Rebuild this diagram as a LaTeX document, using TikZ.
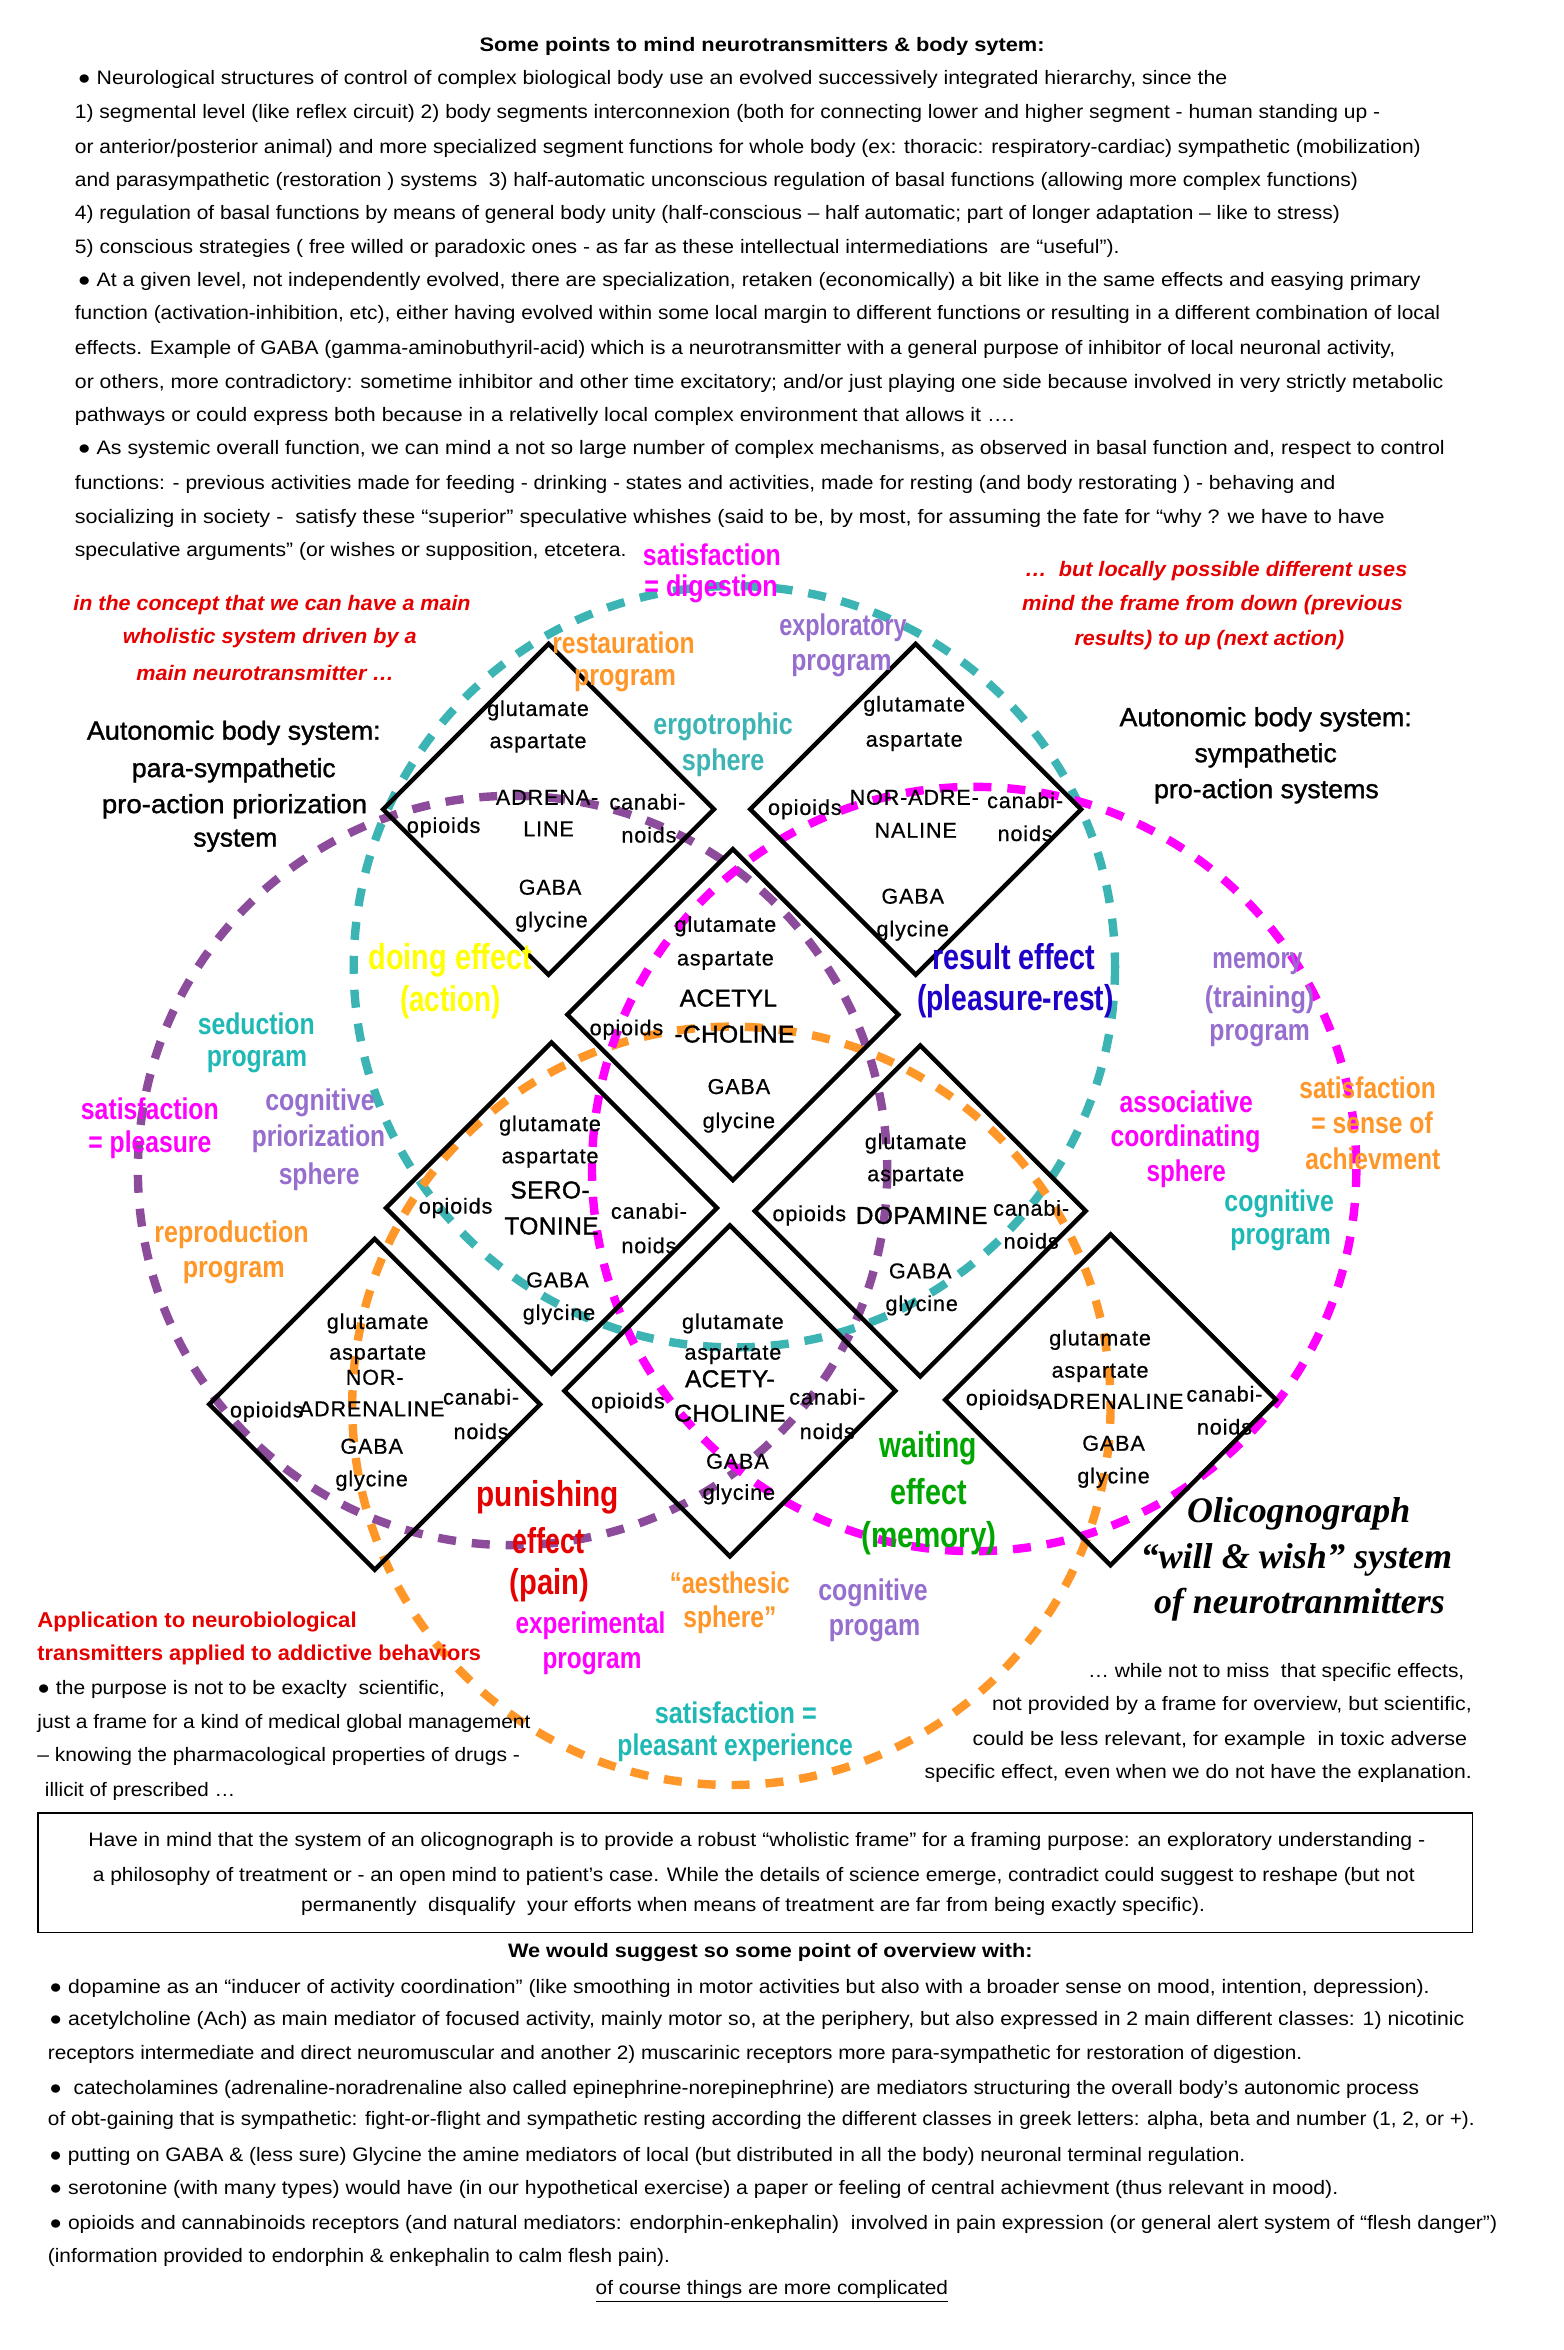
\documentclass[tikz,border=0pt]{standalone}
\usepackage{fontspec}
\setmainfont{Liberation Sans}
\newfontfamily\serifbi{Liberation Serif}
\newfontfamily\dfont[FakeBold=0.6,LetterSpace=4]{Liberation Sans}
\newfontfamily\dfontb[FakeBold=1.4,LetterSpace=2]{Liberation Sans}
\newfontfamily\semib[FakeBold=1.2]{Liberation Sans}
\usetikzlibrary{shapes.geometric}
\definecolor{tealc}{RGB}{60,180,180}
\definecolor{tealt}{RGB}{30,185,180}
\definecolor{purc}{RGB}{140,75,155}
\definecolor{purt}{RGB}{150,110,205}
\definecolor{magc}{RGB}{255,0,255}
\definecolor{orc}{RGB}{255,150,40}
\definecolor{yelc}{RGB}{255,255,0}
\definecolor{bluc}{RGB}{30,0,200}
\definecolor{grnc}{RGB}{0,166,0}
\definecolor{redc}{RGB}{230,0,0}
\newlength\upx \setlength\upx{0.75pt}
\newcommand\tlab[6][]{\node[txt,#1] (#2) at (#3,#4) {\resizebox{#5\upx}{\height}{#6}};}
\newcommand\dlab[5][dsm]{\node[#1] (#2) at (#3,#4) {#5};}
\tikzset{
 txt/.style={inner sep=0pt,outer sep=0pt},
 body/.style={font=\fontsize{9.75}{11}\selectfont},
 bodyb/.style={font=\bfseries\fontsize{9.75}{11}\selectfont},
 dsm/.style={txt,font=\dfont\fontsize{10.8}{12}\selectfont},
 dnm/.style={txt,font=\dfont\fontsize{10.8}{12}\selectfont},
 dbig/.style={txt,font=\dfontb\fontsize{12.2}{13}\selectfont},
 clab/.style={font=\bfseries\fontsize{15}{16}\selectfont},
 elab/.style={font=\bfseries\fontsize{18}{19}\selectfont},
 autob/.style={font=\semib\fontsize{13.1}{14}\selectfont},
 redi/.style={text=redc,font=\bfseries\itshape\fontsize{10.5}{12}\selectfont},
 redb/.style={text=redc,font=\bfseries\fontsize{10.75}{12}\selectfont},
 olic/.style={font=\serifbi\bfseries\itshape\fontsize{18}{20}\selectfont},
 dsh/.style={line width=4.2pt,dash pattern=on 9pt off 8pt},
 dia/.style={diamond,draw,line width=2.2pt,minimum width=166.5pt,minimum height=166.5pt,inner sep=0pt,aspect=1},
}
\begin{document}
\begin{tikzpicture}[x=0.75pt,y=-0.75pt]
\fill[white] (0,0) rectangle (1043,1568);
\useasboundingbox (0,0) rectangle (1043,1568);

% ---------- top text ----------
\tlab[bodyb]{title}{508.5}{31}{377}{Some points to mind neurotransmitters \& body sytem:}
\tlab[body,anchor=west]{t1}{52}{53}{767}{● Neurological structures of control of complex biological body use an evolved successively integrated hierarchy, since the}
\tlab[body,anchor=west]{t2}{50}{76}{871}{1) segmental level (like reflex circuit) 2) body segments interconnexion (both for connecting lower and higher segment - human standing up -}
\tlab[body,anchor=west]{t3}{50}{99}{898}{or anterior/posterior animal) and more specialized segment functions for whole body (ex: thoracic: respiratory-cardiac) sympathetic (mobilization)}
\tlab[body,anchor=west]{t4}{50}{121}{856}{and parasympathetic (restoration ) systems\ \ 3) half-automatic unconscious regulation of basal functions (allowing more complex functions)}
\tlab[body,anchor=west]{t5}{50}{143}{844}{4) regulation of basal functions by means of general body unity (half-conscious – half automatic; part of longer adaptation – like to stress)}
\tlab[body,anchor=west]{t6}{50}{166}{697}{5) conscious strategies ( free willed or paradoxic ones - as far as these intellectual intermediations\ \ are “useful”).}
\tlab[body,anchor=west]{t7}{52}{188}{896}{● At a given level, not independently evolved, there are specialization, retaken (economically) a bit like in the same effects and easying primary}
\tlab[body,anchor=west]{t8}{50}{210}{911}{function (activation-inhibition, etc), either having evolved within some local margin to different functions or resulting in a different combination of local}
\tlab[body,anchor=west]{t9}{50}{233}{881}{effects. Example of GABA (gamma-aminobuthyril-acid) which is a neurotransmitter with a general purpose of inhibitor of local neuronal activity,}
\tlab[body,anchor=west]{t10}{50}{256}{913}{or others, more contradictory: sometime inhibitor and other time excitatory; and/or just playing one side because involved in very strictly metabolic}
\tlab[body,anchor=west]{t11}{50}{278}{627}{pathways or could express both because in a relativelly local complex environment that allows it ….}
\tlab[body,anchor=west]{t12}{52}{300}{912}{● As systemic overall function, we can mind a not so large number of complex mechanisms, as observed in basal function and, respect to control}
\tlab[body,anchor=west]{t13}{50}{323}{841}{functions: - previous activities made for feeding - drinking - states and activities, made for resting (and body restorating ) - behaving and}
\tlab[body,anchor=west]{t14}{50}{346}{874}{socializing in society -\ \ satisfy these “superior” speculative whishes (said to be, by most, for assuming the fate for “why ? we have to have}
\tlab[body,anchor=west]{t15}{50}{368}{368}{speculative arguments” (or wishes or supposition, etcetera.}

% ---------- dashed circles ----------
\draw[dsh,tealc] (490,645) circle[radius=254];
\draw[dsh,orc] (488,938) circle[radius=253];
\draw[dsh,purc] (342,781) circle[radius=250];
\draw[dsh,magc] (650,780) circle[radius=255];

% ---------- diamonds ----------
\node[dia] (dA) at (366,540) {};
\node[dia] (dB) at (611,540) {};
\node[dia] (dC) at (489,677) {};
\node[dia] (dD) at (368,806) {};
\node[dia] (dE) at (614,808) {};
\node[dia] (dF) at (250,937) {};
\node[dia] (dG) at (487,928) {};
\node[dia] (dH) at (741,934) {};

% diamond A
\dlab{aglu}{359}{474}{glutamate}
\dlab{aasp}{359}{496}{aspartate}
\dlab[dnm]{an1}{365}{532}{ADRENA-}
\dlab[dnm]{an2}{366}{553}{LINE}
\dlab{aop}{296}{552}{opioids}
\dlab{aca}{432}{535}{canabi-}
\dlab{ano}{433}{557}{noids}
\dlab{aga}{367}{592}{GABA}
\dlab{agl}{368}{615}{glycine}
% diamond B
\dlab{bglu}{610}{471}{glutamate}
\dlab{basp}{610}{495}{aspartate}
\dlab[dnm]{bn1}{610}{532}{NOR-ADRE-}
\dlab[dnm]{bn2}{611}{554}{NALINE}
\dlab{bop}{537}{540}{opioids}
\dlab{bca}{684}{534}{canabi-}
\dlab{bno}{684}{556}{noids}
\dlab{bga}{609}{598}{GABA}
\dlab{bgl}{609}{621}{glycine}
% diamond C
\dlab{cglu}{484}{618}{glutamate}
\dlab{casp}{484}{641}{aspartate}
\dlab[dbig]{cn1}{486}{666}{ACETYL}
\dlab[dbig]{cn2}{490}{690}{-CHOLINE}
\dlab{cop}{418}{687}{opioids}
\dlab{cga}{493}{725}{GABA}
\dlab{cgl}{493}{749}{glycine}
% diamond D
\dlab{dglu}{367}{751}{glutamate}
\dlab{dasp}{367}{773}{aspartate}
\dlab[dbig]{dn1}{367}{794}{SERO-}
\dlab[dbig]{dn2}{368}{818}{TONINE}
\dlab{dop}{304}{806}{opioids}
\dlab{dca}{433}{808}{canabi-}
\dlab{dno}{433}{831}{noids}
\dlab{dga}{372}{854}{GABA}
\dlab{dgl}{373}{877}{glycine}
% diamond E
\dlab{eglu}{611}{763}{glutamate}
\dlab{easp}{611}{785}{aspartate}
\dlab[dbig]{en1}{615}{811}{DOPAMINE}
\dlab{eop}{540}{811}{opioids}
\dlab{eca}{688}{806}{canabi-}
\dlab{eno}{688}{828}{noids}
\dlab{ega}{614}{848}{GABA}
\dlab{egl}{615}{871}{glycine}
% diamond F
\dlab{fglu}{252}{883}{glutamate}
\dlab{fasp}{252}{904}{aspartate}
\dlab[dnm]{fn1}{250}{919}{NOR-}
\dlab[dnm]{fn2}{248}{940}{ADRENALINE}
\dlab{fop}{178}{942}{opioids}
\dlab{fca}{321}{932}{canabi-}
\dlab{fno}{321}{955}{noids}
\dlab{fga}{248}{965}{GABA}
\dlab{fgl}{248}{988}{glycine}
% diamond G
\dlab{gglu}{489}{883}{glutamate}
\dlab{gasp}{489}{904}{aspartate}
\dlab[dbig]{gn1}{487}{920}{ACETY-}
\dlab[dbig]{gn2}{487}{943}{CHOLINE}
\dlab{gop}{419}{936}{opioids}
\dlab{gca}{552}{932}{canabi-}
\dlab{gno}{552}{955}{noids}
\dlab{gga}{492}{975}{GABA}
\dlab{ggl}{493}{997}{glycine}
% diamond H
\dlab{hglu}{734}{894}{glutamate}
\dlab{hasp}{734}{916}{aspartate}
\dlab[dnm]{hn1}{741}{935}{ADRENALINE}
\dlab{hop}{669}{934}{opioids}
\dlab{hca}{817}{930}{canabi-}
\dlab{hno}{817}{952}{noids}
\dlab{hga}{743}{963}{GABA}
\dlab{hgl}{743}{986}{glycine}

% ---------- coloured labels ----------
\tlab[clab,text=magc]{m1}{475}{370}{92}{satisfaction}
\tlab[clab,text=magc]{m2}{474.5}{393}{89}{= digestion}
\tlab[clab,text=orc]{o1}{416}{429}{95}{restauration}
\tlab[clab,text=orc]{o2}{417}{454}{68}{program}
\tlab[clab,text=purt]{p1}{562.5}{419}{85}{exploratory}
\tlab[clab,text=purt]{p2}{561.5}{444}{67}{program}
\tlab[clab,text=tealc]{e1}{482.5}{485}{93}{ergotrophic}
\tlab[clab,text=tealc]{e2}{482.5}{509}{55}{sphere}
\tlab[elab,text=yelc]{y1}{300.5}{641}{109}{doing effect}
\tlab[elab,text=yelc]{y2}{300.5}{669}{67}{(action)}
\tlab[elab,text=bluc]{b1}{676.5}{638}{109}{result effect}
\tlab[elab,text=bluc]{b2}{677.5}{668}{131}{(pleasure-rest)}
\tlab[clab,text=purt]{mem1}{839}{643}{60}{memory}
\tlab[clab,text=purt]{mem2}{840.5}{667}{73}{(training)}
\tlab[clab,text=purt]{mem3}{840.5}{691}{67}{program}
\tlab[clab,text=tealt]{s1}{171}{683}{78}{seduction}
\tlab[clab,text=tealt]{s2}{171.5}{708}{67}{program}
\tlab[clab,text=magc]{sp1}{100}{740}{92}{satisfaction}
\tlab[clab,text=magc]{sp2}{100}{764}{82}{= pleasure}
\tlab[clab,text=purt]{c1}{213.5}{736}{73}{cognitive}
\tlab[clab,text=purt]{c2}{212.5}{760}{89}{priorization}
\tlab[clab,text=purt]{c3}{213}{785}{54}{sphere}
\tlab[clab,text=orc]{r1}{154.5}{824}{103}{reproduction}
\tlab[clab,text=orc]{r2}{156}{849}{68}{program}
\tlab[clab,text=magc]{a1}{791.5}{735}{89}{associative}
\tlab[clab,text=magc]{a2}{791}{760}{100}{coordinating}
\tlab[clab,text=magc]{a3}{791.5}{783}{53}{sphere}
\tlab[clab,text=orc]{sa1}{912.5}{726}{91}{satisfaction}
\tlab[clab,text=orc]{sa2}{915.5}{749}{81}{= sense of}
\tlab[clab,text=orc]{sa3}{916}{773}{90}{achievment}
\tlab[clab,text=tealt]{cp1}{853.5}{803}{73}{cognitive}
\tlab[clab,text=tealt]{cp2}{854.5}{827}{67}{program}
\tlab[elab,text=grnc]{w1}{619.5}{966}{65}{waiting}
\tlab[elab,text=grnc]{w2}{619.5}{995}{51}{effect}
\tlab[elab,text=grnc]{w3}{620}{1026}{90}{(memory)}
\tlab[elab,text=redc]{pu1}{365.5}{999}{95}{punishing}
\tlab[elab,text=redc]{pu2}{366}{1028}{48}{effect}
\tlab[elab,text=redc]{pu3}{366.5}{1058}{53}{(pain)}
\tlab[clab,text=magc]{ex1}{394}{1085}{100}{experimental}
\tlab[clab,text=magc]{ex2}{395}{1110}{66}{program}
\tlab[clab,text=orc]{ae1}{487}{1056}{80}{“aesthesic}
\tlab[clab,text=orc]{ae2}{487}{1081}{62}{sphere”}
\tlab[clab,text=purt]{cg1}{582.5}{1063}{73}{cognitive}
\tlab[clab,text=purt]{cg2}{583.5}{1088}{61}{progam}
\tlab[clab,text=tealt]{pl1}{491}{1143}{108}{satisfaction =}
\tlab[clab,text=tealt]{pl2}{490.5}{1166}{157}{pleasant experience}

% ---------- side texts ----------
\tlab[redi]{ri1}{181.5}{404}{265}{in the concept that we can have a main}
\tlab[redi]{ri2}{180}{426}{196}{wholistic system driven by a}
\tlab[redi]{ri3}{177}{449}{172}{main neurotransmitter …}
\tlab[redi]{rj1}{811.5}{381}{255}{…\ \ but locally possible different uses}
\tlab[redi]{rj2}{809}{404}{254}{mind the frame from down (previous}
\tlab[redi]{rj3}{807}{427}{180}{results) to up (next action)}

\tlab[autob]{pa1}{156}{489}{196}{Autonomic body system:}
\tlab[autob]{pa2}{156}{514}{136}{para-sympathetic}
\tlab[autob]{pa3}{156.5}{538}{177}{pro-action priorization}
\tlab[autob]{pa4}{157}{561}{56}{system}
\tlab[autob]{sy1}{844.5}{480}{195}{Autonomic body system:}
\tlab[autob]{sy2}{844.5}{504}{95}{sympathetic}
\tlab[autob]{sy3}{845}{528}{150}{pro-action systems}

\tlab[olic]{ol1}{866.5}{1010}{149}{Olicognograph}
\tlab[olic]{ol2}{865}{1041}{208}{“will \& wish” system}
\tlab[olic]{ol3}{867}{1071}{194}{of neurotranmitters}

\tlab[body,anchor=west]{wn1}{726}{1116}{251}{… while not to miss\ \ that specific effects,}
\tlab[body,anchor=west]{wn2}{662}{1138}{320}{not provided by a frame for overview, but scientific,}
\tlab[body,anchor=west]{wn3}{649}{1161}{330}{could be less relevant, for example\ \ in toxic adverse}
\tlab[body,anchor=west]{wn4}{617}{1183}{365}{specific effect, even when we do not have the explanation.}

\tlab[redb,anchor=west]{ap1}{25}{1082}{213}{Application to neurobiological}
\tlab[redb,anchor=west]{ap2}{25}{1104}{296}{transmitters applied to addictive behaviors}
\tlab[body,anchor=west]{pp1}{25}{1127}{272}{● the purpose is not to be exaclty\ \ scientific,}
\tlab[body,anchor=west]{pp2}{25}{1150}{329}{just a frame for a kind of medical global management}
\tlab[body,anchor=west]{pp3}{25}{1172}{322}{– knowing the pharmacological properties of drugs -}
\tlab[body,anchor=west]{pp4}{30}{1195}{127}{illicit of prescribed …}

% ---------- framed note ----------
\node[draw,line width=0.8pt,minimum width=717.75pt,minimum height=60pt,anchor=north west,inner sep=0pt] (box) at (25,1209) {};
\tlab[body]{bx1}{505}{1229}{892}{Have in mind that the system of an olicognograph is to provide a robust “wholistic frame” for a framing purpose: an exploratory understanding -}
\tlab[body]{bx2}{503}{1252}{882}{a philosophy of treatment or - an open mind to patient's case. While the details of science emerge, contradict could suggest to reshape (but not}
\tlab[body]{bx3}{502.5}{1272}{603}{permanently\ \ disqualify\ \ your efforts when means of treatment are far from being exactly specific).}

% ---------- bottom list ----------
\tlab[bodyb]{wt}{514}{1303}{350}{We would suggest so some point of overview with:}
\tlab[body,anchor=west]{bb1}{33}{1327}{921}{● dopamine as an “inducer of activity coordination” (like smoothing in motor activities but also with a broader sense on mood, intention, depression).}
\tlab[body,anchor=west]{bb2}{33}{1348}{944}{● acetylcholine (Ach) as main mediator of focused activity, mainly motor so, at the periphery, but also expressed in 2 main different classes: 1) nicotinic}
\tlab[body,anchor=west]{bb3}{32}{1371}{837}{receptors intermediate and direct neuromuscular and another 2) muscarinic receptors more para-sympathetic for restoration of digestion.}
\tlab[body,anchor=west]{bb4}{33}{1394}{914}{●\ \ catecholamines (adrenaline-noradrenaline also called epinephrine-norepinephrine) are mediators structuring the overall body's autonomic process}
\tlab[body,anchor=west]{bb5}{32}{1415}{952}{of obt-gaining that is sympathetic: fight-or-flight and sympathetic resting according the different classes in greek letters: alpha, beta and number (1, 2, or +).}
\tlab[body,anchor=west]{bb6}{33}{1439}{798}{● putting on GABA \& (less sure) Glycine the amine mediators of local (but distributed in all the body) neuronal terminal regulation.}
\tlab[body,anchor=west]{bb7}{33}{1461}{860}{● serotonine (with many types) would have (in our hypothetical exercise) a paper or feeling of central achievment (thus relevant in mood).}
\tlab[body,anchor=west]{bb8}{33}{1484}{966}{● opioids and cannabinoids receptors (and natural mediators: endorphin-enkephalin)\ \ involved in pain expression (or general alert system of “flesh danger”)}
\tlab[body,anchor=west]{bb9}{32}{1506}{415}{(information provided to endorphin \& enkephalin to calm flesh pain).}
\tlab[body]{oc}{515}{1529}{235}{\underline{of course things are more complicated}}
\end{tikzpicture}
\end{document}
